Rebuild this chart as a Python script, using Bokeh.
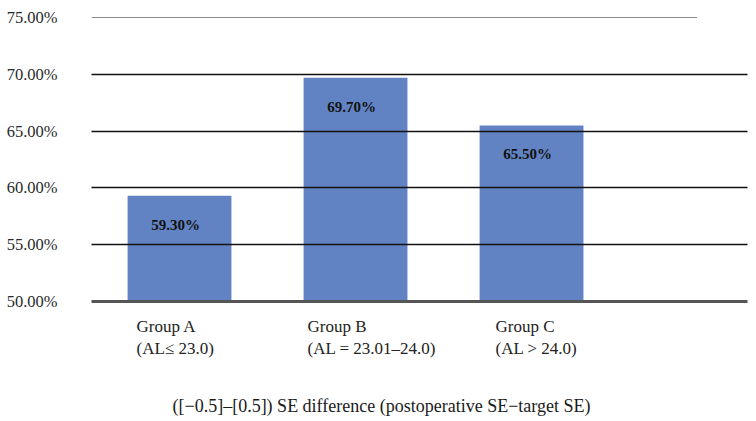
from bokeh.plotting import figure
from bokeh.models import Range1d, FixedTicker, PrintfTickFormatter, Label, ColumnDataSource
from bokeh.core.properties import value
from bokeh.embed import file_html
from bokeh.resources import INLINE

# Data
groups = ["Group A", "Group B", "Group C"]
al_ranges = ["(AL\u2264 23.0)", " (AL = 23.01\u201324.0)", "(AL > 24.0)"]
rates = [59.3, 69.7, 65.5]
y_ticks = [50, 55, 60, 65, 70, 75]
x_title = "([\u22120.5]\u2013[0.5]) SE difference (postoperative SE\u2212target SE)"

SERIF = "Liberation Serif"
BAR_COLOR = "#6283c3"

idx = list(range(len(groups)))
src = ColumnDataSource(dict(
    x=idx,
    top=rates,
    label=[f"{r:.2f}%" for r in rates],
))

# The frame reaches the bottom of the canvas so the category captions
# and the axis title can sit inside it, under the baseline.
p = figure(
    width=756, height=421,
    output_backend="svg", toolbar_location=None,
    x_range=Range1d(-0.5, 3.227),
    y_range=Range1d(39.44, 75.44),
    min_border_left=91, min_border_right=9,
    min_border_top=12, min_border_bottom=0,
)
p.outline_line_color = None
p.background_fill_color = "white"
p.border_fill_color = "white"

# Bars
p.vbar(x="x", top="top", bottom=y_ticks[0], width=0.59, source=src,
       fill_color=BAR_COLOR, line_color=None)

# Value labels inside the bars
p.text(x="x", y="top", text="label", source=src,
       x_offset=-4, y_offset=29,
       text_font=value(SERIF), text_font_style="bold",
       text_font_size="15px", text_color="#111111",
       text_align="center", text_baseline="middle")

# Axes
p.xaxis.visible = False
yax = p.yaxis[0]
yax.ticker = FixedTicker(ticks=y_ticks)
yax.formatter = PrintfTickFormatter(format="%.2f%%")
yax.axis_line_color = None
yax.major_tick_line_color = None
yax.minor_tick_line_color = None
yax.major_label_standoff = 28
yax.major_label_text_font = SERIF
yax.major_label_text_font_size = "16.5px"
yax.major_label_text_color = "#2a2a2a"

# Grid lines drawn over the bars
p.xgrid.visible = False
p.ygrid.ticker = FixedTicker(ticks=y_ticks[1:-1])
p.ygrid.grid_line_color = "#111111"
p.ygrid.grid_line_width = 1.6
p.ygrid.level = "overlay"

# Top reference line (lighter, shorter)
p.segment(x0=[-0.5], y0=[y_ticks[-1]], x1=[2.94], y1=[y_ticks[-1]],
          line_color="#8a8a8a", line_width=1.2)

# Baseline
p.segment(x0=[-0.5], y0=[y_ticks[0]], x1=[3.227], y1=[y_ticks[0]],
          line_color="#555555", line_width=3, level="overlay")

# Category captions under the bars
label_shift = [-43, -48, -36]
for i, (g, r) in enumerate(zip(groups, al_ranges)):
    p.add_layout(Label(
        x=idx[i], y=y_ticks[0], x_offset=label_shift[i], y_offset=-15,
        text=g + "\n" + r, text_font=SERIF, text_font_size="17px",
        text_color="#222222", text_align="left", text_baseline="top",
        text_line_height=1.2,
    ))

# Axis title
p.add_layout(Label(
    x=-0.5, y=y_ticks[0], x_offset=81, y_offset=-104,
    text=x_title, text_font=SERIF, text_font_size="18px",
    text_color="#1a1a1a", text_align="left", text_baseline="middle",
))

open("out.html", "w").write(file_html(p, INLINE))
